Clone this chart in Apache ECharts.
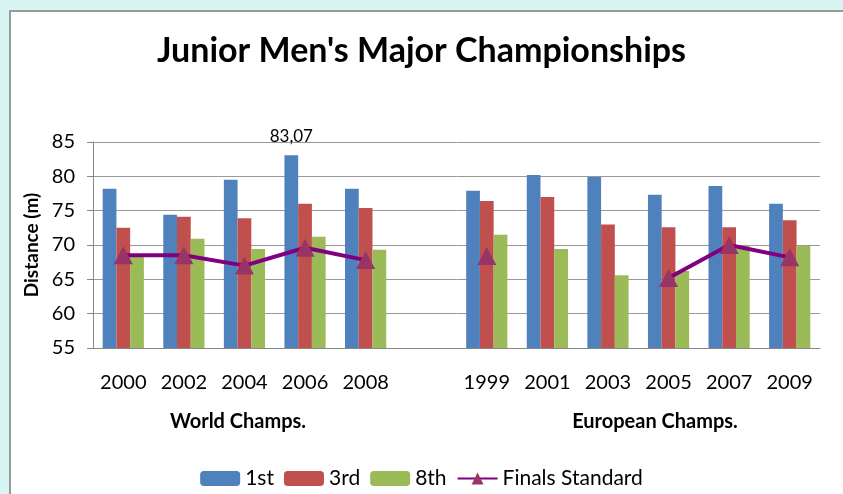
<!DOCTYPE html>
<html>
<head>
<meta charset="utf-8">
<script src="https://cdn.jsdelivr.net/npm/echarts@6/dist/echarts.min.js"></script>
<style>
  html, body { margin: 0; padding: 0; background: #d6f5f3; }
  #frame { position: absolute; left: 9px; top: 10px; width: 840px; height: 490px;
           background: #fff; border-top: 2px solid #9a9a9a; border-left: 2px solid #9a9a9a; }
  #main { position: absolute; left: 0; top: 0; width: 843px; height: 494px; }
</style>
</head>
<body>
<div id="frame"></div>
<div id="main"></div>
<script>
var myChart = echarts.init(document.getElementById('main'))

// categories (empty one = gap between the two groups)
var years = ['2000', '2002', '2004', '2006', '2008', '', '1999', '2001', '2003', '2005', '2007', '2009']
var first = [78.2, 74.4, 79.5, 83.07, 78.2, null, 77.9, 80.2, 79.9, 77.3, 78.6, 76.0]
var third = [72.5, 74.1, 73.9, 76.0, 75.4, null, 76.4, 77.0, 73.0, 72.6, 72.6, 73.6]
var eighth = [68.3, 70.9, 69.4, 71.2, 69.3, null, 71.5, 69.4, 65.6, 66.2, 69.9, 69.9]
var finals = [68.5, 68.5, 67.0, 69.6, 67.8, null, 68.4, null, null, 65.2, 70.0, 68.2]
var groups = ['World Champs.', 'European Champs.']

var font = 'Lato, "Open Sans", sans-serif'

// only the 2006 winner gets a label
var firstData = first.map(function (v, i) {
    if (v === 83.07) {
        return {
            value: v,
            label: {
                show: true, position: 'top', distance: 10, color: '#000', fontSize: 17, fontFamily: font,
                formatter: function (p) { return p.value.toFixed(2).replace('.', ',') }
            }
        }
    }
    return v
})

var options = {
    backgroundColor: 'transparent',
    animation: false,
    title: {
        text: "Junior Men's Major Championships",
        left: 'center',
        top: 29,
        textStyle: { fontSize: 34, fontWeight: 'bold', color: '#000', fontFamily: font }
    },
    legend: {
        bottom: 0,
        left: 'center',
        itemWidth: 40,
        itemHeight: 15,
        itemGap: 10,
        textStyle: { fontSize: 21, color: '#000', fontFamily: font },
        data: ['1st', '3rd', '8th', 'Finals Standard']
    },
    grid: { left: 93, right: 23, top: 142, bottom: 146 },
    xAxis: {
        type: 'category',
        data: years,
        axisLine: { lineStyle: { color: '#888' } },
        axisTick: { length: 6, lineStyle: { color: '#888' } },
        axisLabel: { margin: 25, fontSize: 20, color: '#000', fontFamily: font, interval: 0 }
    },
    yAxis: {
        type: 'value',
        min: 55,
        max: 85,
        interval: 5,
        name: 'Distance (m)',
        nameLocation: 'middle',
        nameGap: 52,
        nameTextStyle: { fontSize: 19, fontWeight: 'bold', color: '#000', fontFamily: font },
        axisLine: { show: true, lineStyle: { color: '#888' } },
        axisTick: { show: true, length: 6, lineStyle: { color: '#888' } },
        axisLabel: { margin: 18, fontSize: 20, color: '#000', fontFamily: font },
        splitLine: { lineStyle: { color: '#999', width: 1 } }
    },
    graphic: [
        { type: 'text', style: { x: 238, y: 422, text: groups[0], align: 'center', verticalAlign: 'middle', fontSize: 20, fontWeight: 'bold', fill: '#000', fontFamily: font } },
        { type: 'text', style: { x: 655, y: 422, text: groups[1], align: 'center', verticalAlign: 'middle', fontSize: 20, fontWeight: 'bold', fill: '#000', fontFamily: font } }
    ],
    series: [{
        name: '1st',
        type: 'bar',
        data: firstData,
        itemStyle: { color: '#4f81bd' },
        barGap: '0%',
        barCategoryGap: '32%'
    }, {
        name: '3rd',
        type: 'bar',
        data: third,
        itemStyle: { color: '#c0504d' }
    }, {
        name: '8th',
        type: 'bar',
        data: eighth,
        itemStyle: { color: '#9bbb59' }
    }, {
        name: 'Finals Standard',
        type: 'line',
        data: finals,
        connectNulls: false,
        symbol: 'triangle',
        symbolSize: [19, 18],
        showAllSymbol: true,
        lineStyle: { color: '#800080', width: 4 },
        itemStyle: { color: '#983566', borderWidth: 0 },
        z: 5
    }]
}

myChart.setOption(options)
</script>
</body>
</html>
